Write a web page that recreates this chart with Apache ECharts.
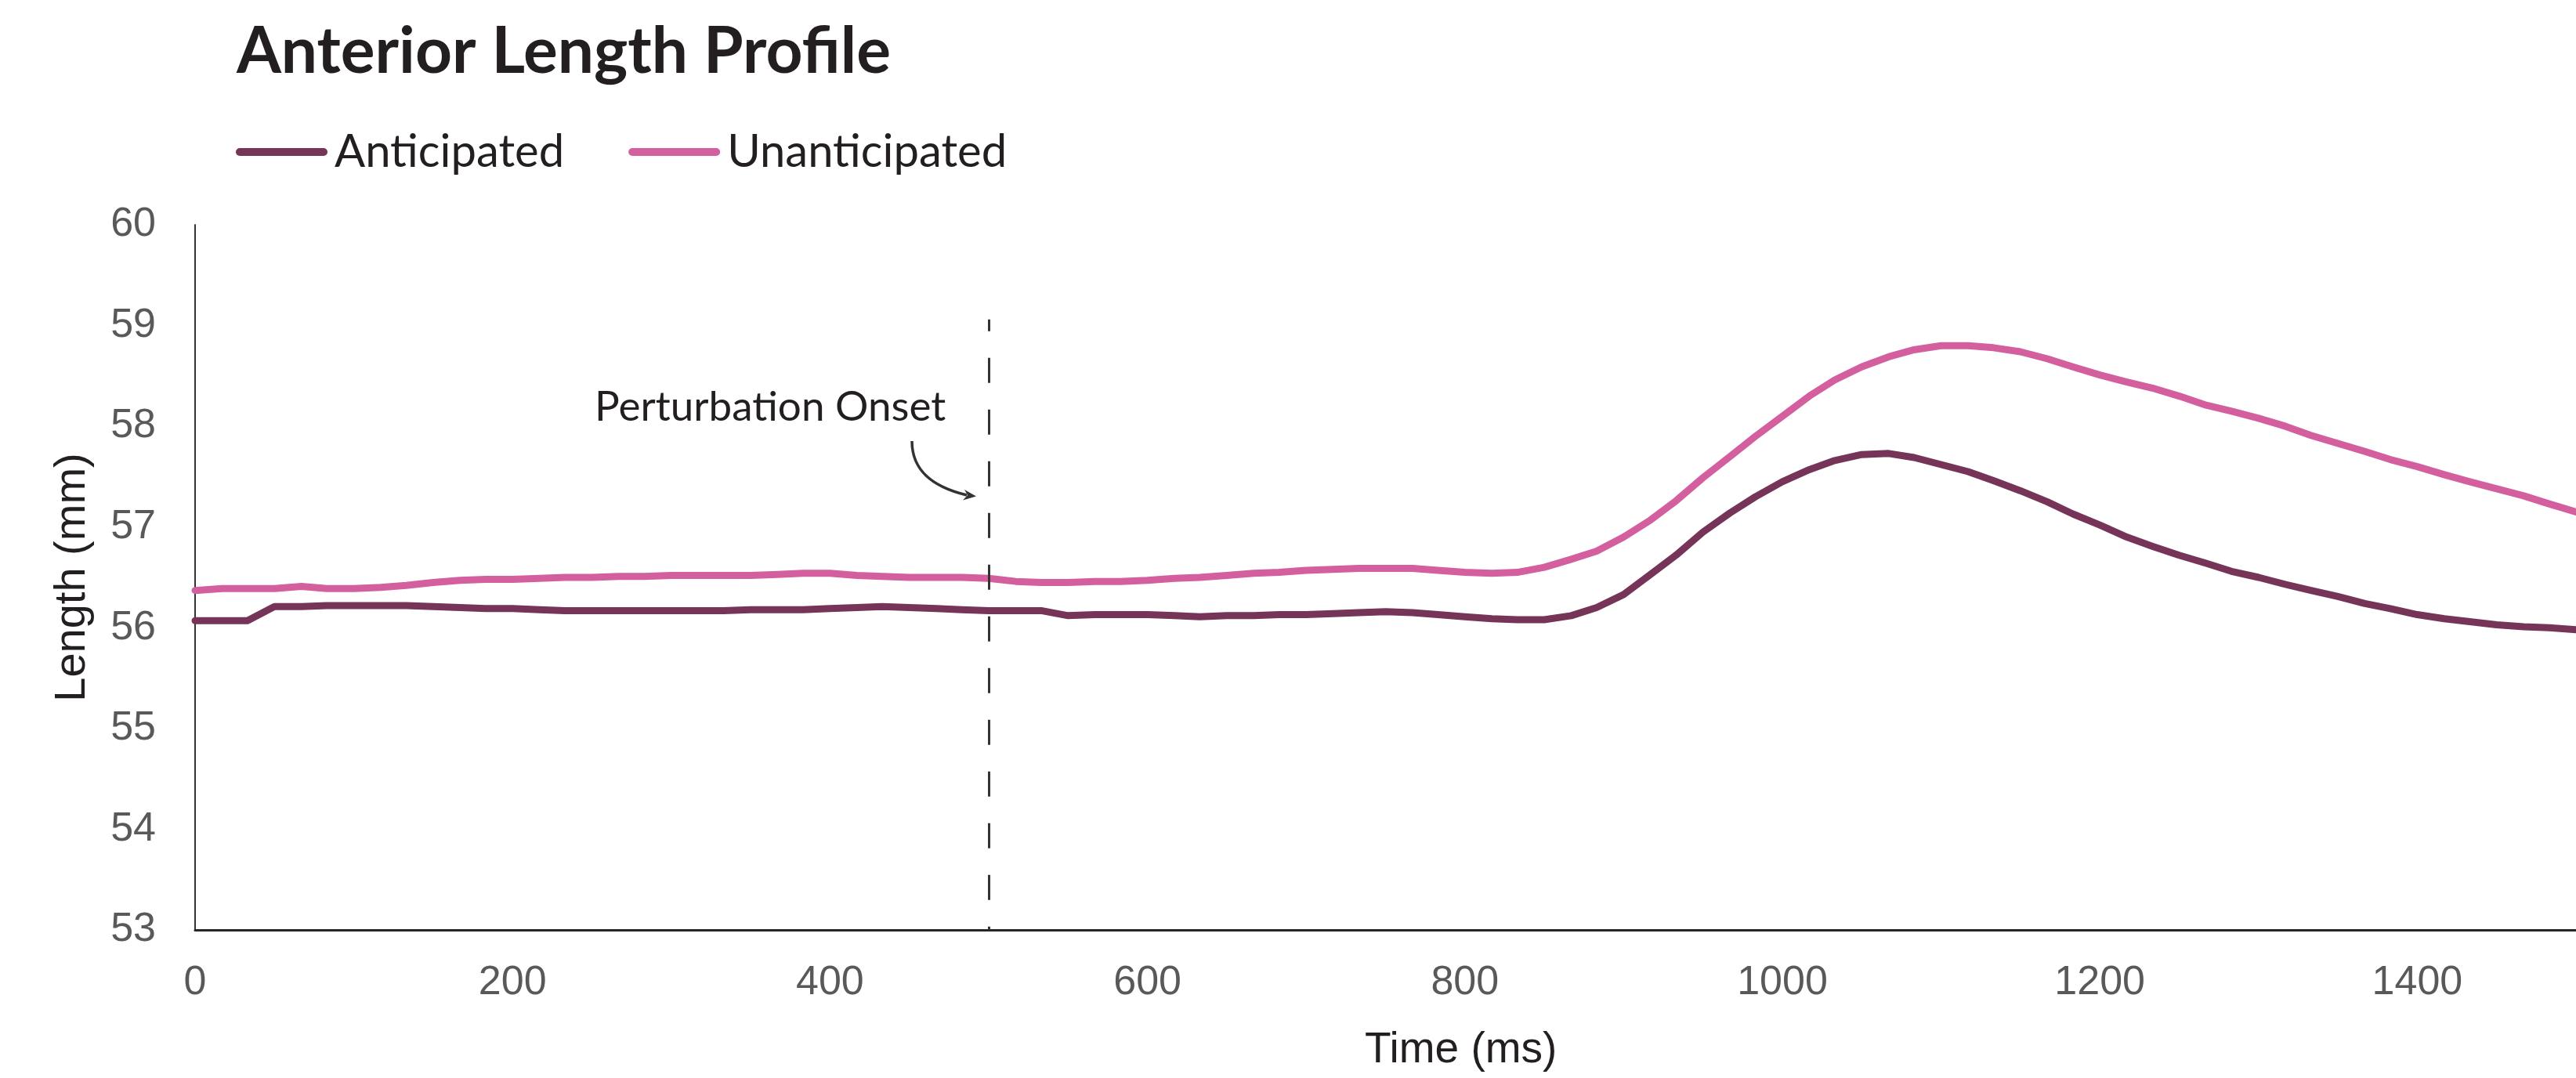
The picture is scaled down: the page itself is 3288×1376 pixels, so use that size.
<!DOCTYPE html>
<html>
<head>
<meta charset="utf-8">
<title>Anterior Length Profile</title>
<script src="https://cdn.jsdelivr.net/npm/echarts@6.0.0/dist/echarts.min.js"></script>
<style>
  html, body { margin: 0; padding: 0; background: #fff; }
  #chart { width: 3288px; height: 1376px; }
</style>
</head>
<body>
<div id="chart"></div>
<script>
// time stamps (ms), sampled at ~60 Hz
const timeMs = [
  0, 17, 33, 50, 67, 83, 100, 117, 133, 150, 167, 183, 200, 217, 233, 250, 267, 283, 300, 317,
  333, 350, 367, 383, 400, 417, 433, 450, 467, 483, 500, 517, 533, 550, 567, 583, 600, 617, 633, 650,
  667, 683, 700, 717, 733, 750, 767, 783, 800, 817, 833, 850, 867, 883, 900, 917, 933, 950, 967, 983,
  1000, 1017, 1033, 1050, 1067, 1083, 1100, 1117, 1133, 1150, 1167, 1183, 1200, 1217, 1233, 1250, 1267, 1283, 1300, 1317,
  1333, 1350, 1367, 1383, 1400, 1417, 1433, 1450, 1467, 1483, 1500
];

const anticipated = [
  56.07, 56.07, 56.07, 56.21, 56.21, 56.22, 56.22, 56.22, 56.22, 56.21, 56.20, 56.19, 56.19, 56.18, 56.17, 56.17, 56.17, 56.17, 56.17, 56.17,
  56.17, 56.18, 56.18, 56.18, 56.19, 56.20, 56.21, 56.20, 56.19, 56.18, 56.17, 56.17, 56.17, 56.12, 56.13, 56.13, 56.13, 56.12, 56.11, 56.12,
  56.12, 56.13, 56.13, 56.14, 56.15, 56.16, 56.15, 56.13, 56.11, 56.09, 56.08, 56.08, 56.12, 56.20, 56.33, 56.53, 56.72, 56.95, 57.14, 57.30,
  57.45, 57.57, 57.66, 57.72, 57.73, 57.69, 57.62, 57.55, 57.46, 57.36, 57.25, 57.13, 57.02, 56.90, 56.81, 56.72, 56.64, 56.56, 56.50, 56.43,
  56.37, 56.31, 56.24, 56.19, 56.13, 56.09, 56.06, 56.03, 56.01, 56.00, 55.98
];

const unanticipated = [
  56.37, 56.39, 56.39, 56.39, 56.41, 56.39, 56.39, 56.40, 56.42, 56.45, 56.47, 56.48, 56.48, 56.49, 56.50, 56.50, 56.51, 56.51, 56.52, 56.52,
  56.52, 56.52, 56.53, 56.54, 56.54, 56.52, 56.51, 56.50, 56.50, 56.50, 56.49, 56.46, 56.45, 56.45, 56.46, 56.46, 56.47, 56.49, 56.50, 56.52,
  56.54, 56.55, 56.57, 56.58, 56.59, 56.59, 56.59, 56.57, 56.55, 56.54, 56.55, 56.60, 56.68, 56.76, 56.90, 57.07, 57.26, 57.49, 57.70, 57.90,
  58.10, 58.30, 58.46, 58.59, 58.69, 58.76, 58.80, 58.80, 58.78, 58.74, 58.67, 58.59, 58.51, 58.44, 58.38, 58.30, 58.21, 58.15, 58.08, 58.00,
  57.91, 57.83, 57.75, 57.67, 57.60, 57.52, 57.45, 57.38, 57.31, 57.23, 57.15
];

const seriesNames = ['Anticipated', 'Unanticipated'];
const seriesColors = ['#763458', '#d45f9f'];
const onsetMs = 500;
const onsetTop = 59.06;

const chart = echarts.init(document.getElementById('chart'));

const pair = (vals) => timeMs.map((t, i) => [t, vals[i]]);
const capsule = 'path://M5,0 L112,0 A5,5 0 0 1 112,10 L5,10 A5,5 0 0 1 5,0 Z';

const option = {
  animation: false,
  backgroundColor: '#ffffff',
  title: {
    text: 'Anterior Length Profile',
    left: 297,
    top: 21,
    textStyle: {
      fontFamily: 'Lato',
      fontWeight: 'bold',
      fontSize: 82,
      color: '#231f20'
    }
  },
  legend: {
    left: 296,
    top: 160,
    itemWidth: 117,
    itemHeight: 10,
    itemGap: 82,
    icon: capsule,
    data: seriesNames,
    textStyle: {
      fontFamily: 'Lato',
      fontSize: 58,
      color: '#231f20',
      padding: [0, 0, 0, 4]
    }
  },
  grid: {
    left: 249,
    top: 287,
    right: 0,
    bottom: 189,
    containLabel: false
  },
  xAxis: {
    type: 'value',
    min: 0,
    max: 1500,
    interval: 200,
    splitLine: { show: false },
    axisTick: { show: false },
    axisLine: { show: true, lineStyle: { color: '#262626', width: 3 } },
    axisLabel: {
      margin: 42,
      fontFamily: 'Liberation Sans',
      fontSize: 52,
      color: '#595959',
      showMaxLabel: false,
      formatter: (v) => String(v)
    }
  },
  yAxis: {
    type: 'value',
    min: 53,
    max: 60,
    interval: 1,
    name: 'Length (mm)',
    nameLocation: 'middle',
    nameRotate: 90,
    nameGap: 128,
    nameTextStyle: {
      fontFamily: 'Liberation Sans',
      fontSize: 56,
      color: '#231f20'
    },
    splitLine: { show: false },
    axisTick: { show: false },
    axisLine: { show: true, lineStyle: { color: '#333333', width: 2 } },
    axisLabel: {
      margin: 50,
      fontFamily: 'Liberation Sans',
      fontSize: 52,
      color: '#595959'
    }
  },
  series: [
    {
      name: seriesNames[0],
      type: 'line',
      data: pair(anticipated),
      showSymbol: false,
      symbol: 'none',
      color: seriesColors[0],
      lineStyle: { width: 9, color: seriesColors[0], cap: 'round', join: 'round' },
      z: 3,
      markLine: {
        silent: true,
        symbol: ['none', 'none'],
        label: { show: false },
        lineStyle: { color: '#333333', width: 3, type: [32, 34], dashOffset: 17 },
        data: [[{ coord: [onsetMs, onsetTop] }, { coord: [onsetMs, 53] }]]
      }
    },
    {
      name: seriesNames[1],
      type: 'line',
      data: pair(unanticipated),
      showSymbol: false,
      symbol: 'none',
      color: seriesColors[1],
      lineStyle: { width: 9, color: seriesColors[1], cap: 'round', join: 'round' },
      z: 2
    }
  ],
  graphic: [
    {
      type: 'text',
      left: 1862 - 120,
      top: 1313,
      style: {
        text: 'Time (ms)',
        fontFamily: 'Liberation Sans',
        fontSize: 55,
        fill: '#231f20'
      }
    },
    {
      type: 'text',
      x: 759,
      y: 520,
      style: {
        text: 'Perturbation Onset',
        fontFamily: 'Lato',
        fontSize: 53,
        fill: '#231f20',
        verticalAlign: 'middle'
      }
    },
    {
      type: 'bezierCurve',
      shape: { x1: 1164, y1: 563, cpx1: 1164, cpy1: 602, cpx2: 1192, cpy2: 622, x2: 1234, y2: 632 },
      style: { stroke: '#333333', lineWidth: 3.5, fill: null }
    },
    {
      type: 'polygon',
      shape: { points: [[1246, 633.5], [1231, 625], [1235, 632], [1229, 638.5]] },
      style: { fill: '#333333' }
    }
  ]
};

chart.setOption(option);
</script>
</body>
</html>
